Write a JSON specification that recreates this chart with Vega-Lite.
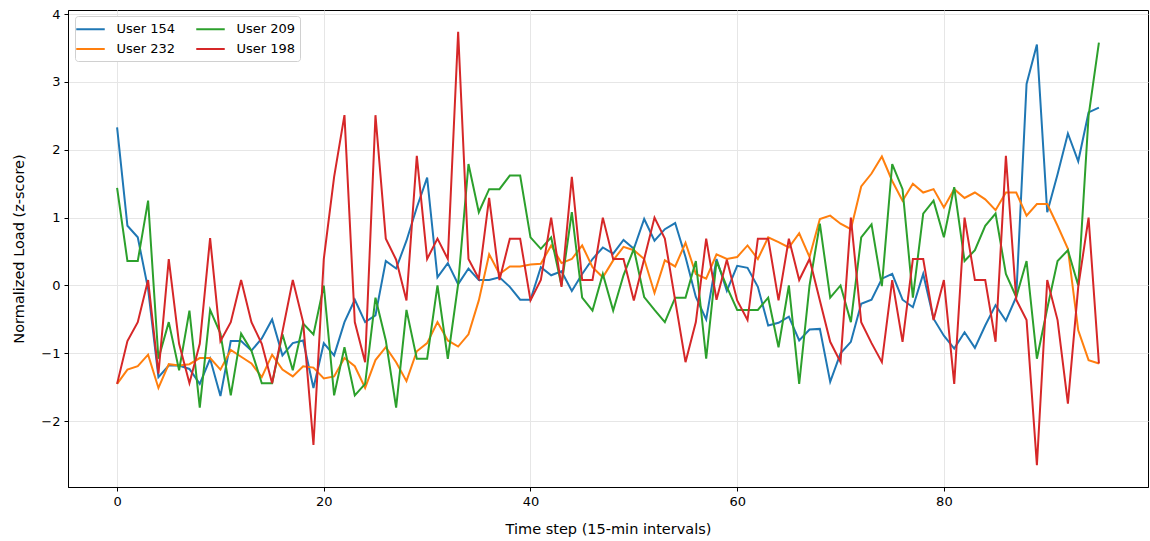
{
  "$schema": "https://vega.github.io/schema/vega-lite/v6.json",
  "width": 1080,
  "height": 477,
  "autosize": {"type": "none"},
  "padding": {"left": 68, "top": 10, "right": 2, "bottom": 54},
  "config": {
    "font": "DejaVu Sans",
    "view": {"stroke": "#000", "strokeWidth": 1},
    "axis": {
      "gridColor": "#e6e6e6", "gridWidth": 1, "domainColor": "#000", "tickColor": "#000",
      "labelColor": "#000", "titleColor": "#000", "labelFontSize": 13, "titleFontSize": 14.5,
      "titleFontWeight": "normal", "tickSize": 4, "labelPadding": 4
    }
  },
  "data": {"values": [
    {"t":0,"User 154":2.33,"User 232":-1.45,"User 209":1.44,"User 198":-1.45},
    {"t":1,"User 154":0.88,"User 232":-1.24,"User 209":0.36,"User 198":-0.82},
    {"t":2,"User 154":0.71,"User 232":-1.19,"User 209":0.36,"User 198":-0.54},
    {"t":3,"User 154":-0.05,"User 232":-1.02,"User 209":1.25,"User 198":0.08},
    {"t":4,"User 154":-1.35,"User 232":-1.51,"User 209":-1.08,"User 198":-1.3},
    {"t":5,"User 154":-1.18,"User 232":-1.16,"User 209":-0.54,"User 198":0.39},
    {"t":6,"User 154":-1.18,"User 232":-1.18,"User 209":-1.25,"User 198":-0.86},
    {"t":7,"User 154":-1.23,"User 232":-1.16,"User 209":-0.37,"User 198":-1.44},
    {"t":8,"User 154":-1.45,"User 232":-1.07,"User 209":-1.8,"User 198":-0.86},
    {"t":9,"User 154":-1.08,"User 232":-1.07,"User 209":-0.36,"User 198":0.7},
    {"t":10,"User 154":-1.63,"User 232":-1.24,"User 209":-0.71,"User 198":-0.82},
    {"t":11,"User 154":-0.82,"User 232":-0.95,"User 209":-1.62,"User 198":-0.54},
    {"t":12,"User 154":-0.82,"User 232":-1.05,"User 209":-0.71,"User 198":0.08},
    {"t":13,"User 154":-0.96,"User 232":-1.15,"User 209":-0.96,"User 198":-0.54},
    {"t":14,"User 154":-0.78,"User 232":-1.35,"User 209":-1.44,"User 198":-0.86},
    {"t":15,"User 154":-0.5,"User 232":-1.02,"User 209":-1.44,"User 198":-1.44},
    {"t":16,"User 154":-1.03,"User 232":-1.24,"User 209":-0.72,"User 198":-0.68},
    {"t":17,"User 154":-0.85,"User 232":-1.34,"User 209":-1.25,"User 198":0.08},
    {"t":18,"User 154":-0.81,"User 232":-1.19,"User 209":-0.56,"User 198":-0.54},
    {"t":19,"User 154":-1.51,"User 232":-1.21,"User 209":-0.72,"User 198":-2.35},
    {"t":20,"User 154":-0.85,"User 232":-1.37,"User 209":0.0,"User 198":0.39},
    {"t":21,"User 154":-1.03,"User 232":-1.34,"User 209":-1.62,"User 198":1.6},
    {"t":22,"User 154":-0.54,"User 232":-1.07,"User 209":-0.91,"User 198":2.51},
    {"t":23,"User 154":-0.21,"User 232":-1.19,"User 209":-1.62,"User 198":-0.54},
    {"t":24,"User 154":-0.54,"User 232":-1.51,"User 209":-1.45,"User 198":-1.13},
    {"t":25,"User 154":-0.44,"User 232":-1.1,"User 209":-0.18,"User 198":2.51},
    {"t":26,"User 154":0.36,"User 232":-0.91,"User 209":-0.81,"User 198":0.69},
    {"t":27,"User 154":0.25,"User 232":-1.13,"User 209":-1.8,"User 198":0.38},
    {"t":28,"User 154":0.66,"User 232":-1.41,"User 209":-0.36,"User 198":-0.22},
    {"t":29,"User 154":1.15,"User 232":-0.97,"User 209":-1.08,"User 198":1.91},
    {"t":30,"User 154":1.59,"User 232":-0.85,"User 209":-1.08,"User 198":0.39},
    {"t":31,"User 154":0.12,"User 232":-0.54,"User 209":0.0,"User 198":0.69},
    {"t":32,"User 154":0.33,"User 232":-0.81,"User 209":-1.08,"User 198":0.39},
    {"t":33,"User 154":0.02,"User 232":-0.9,"User 209":0.02,"User 198":3.74},
    {"t":34,"User 154":0.25,"User 232":-0.72,"User 209":1.79,"User 198":0.39},
    {"t":35,"User 154":0.08,"User 232":-0.22,"User 209":1.08,"User 198":0.1},
    {"t":36,"User 154":0.08,"User 232":0.46,"User 209":1.42,"User 198":1.29},
    {"t":37,"User 154":0.12,"User 232":0.17,"User 209":1.42,"User 198":0.08},
    {"t":38,"User 154":-0.02,"User 232":0.28,"User 209":1.62,"User 198":0.69},
    {"t":39,"User 154":-0.21,"User 232":0.28,"User 209":1.62,"User 198":0.69},
    {"t":40,"User 154":-0.21,"User 232":0.31,"User 209":0.71,"User 198":-0.22},
    {"t":41,"User 154":0.27,"User 232":0.32,"User 209":0.54,"User 198":0.08},
    {"t":42,"User 154":0.15,"User 232":0.59,"User 209":0.71,"User 198":1.0},
    {"t":43,"User 154":0.21,"User 232":0.33,"User 209":0.0,"User 198":-0.02},
    {"t":44,"User 154":-0.08,"User 232":0.39,"User 209":1.08,"User 198":1.6},
    {"t":45,"User 154":0.17,"User 232":0.59,"User 209":-0.18,"User 198":0.08},
    {"t":46,"User 154":0.39,"User 232":0.27,"User 209":-0.37,"User 198":0.08},
    {"t":47,"User 154":0.56,"User 232":0.12,"User 209":0.17,"User 198":1.0},
    {"t":48,"User 154":0.47,"User 232":0.37,"User 209":-0.37,"User 198":0.39},
    {"t":49,"User 154":0.67,"User 232":0.57,"User 209":0.15,"User 198":0.39},
    {"t":50,"User 154":0.54,"User 232":0.52,"User 209":0.54,"User 198":-0.22},
    {"t":51,"User 154":0.98,"User 232":0.39,"User 209":-0.17,"User 198":0.39},
    {"t":52,"User 154":0.66,"User 232":-0.11,"User 209":-0.36,"User 198":1.0},
    {"t":53,"User 154":0.83,"User 232":0.37,"User 209":-0.54,"User 198":0.69},
    {"t":54,"User 154":0.92,"User 232":0.28,"User 209":-0.18,"User 198":-0.22},
    {"t":55,"User 154":0.42,"User 232":0.63,"User 209":-0.18,"User 198":-1.13},
    {"t":56,"User 154":-0.17,"User 232":0.17,"User 209":0.36,"User 198":-0.54},
    {"t":57,"User 154":-0.5,"User 232":0.1,"User 209":-1.08,"User 198":0.69},
    {"t":58,"User 154":0.39,"User 232":0.46,"User 209":0.36,"User 198":-0.21},
    {"t":59,"User 154":-0.08,"User 232":0.39,"User 209":-0.02,"User 198":0.38},
    {"t":60,"User 154":0.29,"User 232":0.42,"User 209":-0.36,"User 198":-0.22},
    {"t":61,"User 154":0.26,"User 232":0.59,"User 209":-0.36,"User 198":-0.51},
    {"t":62,"User 154":-0.02,"User 232":0.39,"User 209":-0.36,"User 198":0.69},
    {"t":63,"User 154":-0.59,"User 232":0.71,"User 209":-0.18,"User 198":0.69},
    {"t":64,"User 154":-0.55,"User 232":0.64,"User 209":-0.91,"User 198":-0.22},
    {"t":65,"User 154":-0.46,"User 232":0.56,"User 209":0.0,"User 198":0.69},
    {"t":66,"User 154":-0.81,"User 232":0.77,"User 209":-1.45,"User 198":0.08},
    {"t":67,"User 154":-0.65,"User 232":0.42,"User 209":0.0,"User 198":0.39},
    {"t":68,"User 154":-0.64,"User 232":0.98,"User 209":0.91,"User 198":-0.22},
    {"t":69,"User 154":-1.42,"User 232":1.03,"User 209":-0.18,"User 198":-0.83},
    {"t":70,"User 154":-1.0,"User 232":0.91,"User 209":0.0,"User 198":-1.13},
    {"t":71,"User 154":-0.83,"User 232":0.83,"User 209":-0.54,"User 198":1.0},
    {"t":72,"User 154":-0.27,"User 232":1.46,"User 209":0.71,"User 198":-0.54},
    {"t":73,"User 154":-0.21,"User 232":1.65,"User 209":0.9,"User 198":-0.85},
    {"t":74,"User 154":0.1,"User 232":1.9,"User 209":-0.01,"User 198":-1.13},
    {"t":75,"User 154":0.17,"User 232":1.54,"User 209":1.79,"User 198":0.08},
    {"t":76,"User 154":-0.21,"User 232":1.25,"User 209":1.42,"User 198":-0.83},
    {"t":77,"User 154":-0.32,"User 232":1.5,"User 209":-0.18,"User 198":0.39},
    {"t":78,"User 154":0.17,"User 232":1.37,"User 209":1.06,"User 198":0.39},
    {"t":79,"User 154":-0.49,"User 232":1.42,"User 209":1.25,"User 198":-0.51},
    {"t":80,"User 154":-0.74,"User 232":1.15,"User 209":0.71,"User 198":0.08},
    {"t":81,"User 154":-0.93,"User 232":1.42,"User 209":1.45,"User 198":-1.45},
    {"t":82,"User 154":-0.69,"User 232":1.29,"User 209":0.36,"User 198":1.0},
    {"t":83,"User 154":-0.92,"User 232":1.37,"User 209":0.52,"User 198":0.08},
    {"t":84,"User 154":-0.59,"User 232":1.27,"User 209":0.88,"User 198":0.08},
    {"t":85,"User 154":-0.29,"User 232":1.11,"User 209":1.06,"User 198":-0.83},
    {"t":86,"User 154":-0.52,"User 232":1.37,"User 209":0.17,"User 198":1.91},
    {"t":87,"User 154":-0.17,"User 232":1.37,"User 209":-0.17,"User 198":-0.21},
    {"t":88,"User 154":2.97,"User 232":1.03,"User 209":0.36,"User 198":-0.51},
    {"t":89,"User 154":3.55,"User 232":1.2,"User 209":-1.08,"User 198":-2.65},
    {"t":90,"User 154":1.08,"User 232":1.2,"User 209":-0.34,"User 198":0.08},
    {"t":91,"User 154":1.64,"User 232":0.88,"User 209":0.36,"User 198":-0.51},
    {"t":92,"User 154":2.24,"User 232":0.54,"User 209":0.52,"User 198":-1.74},
    {"t":93,"User 154":1.83,"User 232":-0.66,"User 209":0.0,"User 198":-0.02},
    {"t":94,"User 154":2.55,"User 232":-1.1,"User 209":2.5,"User 198":1.0},
    {"t":95,"User 154":2.62,"User 232":-1.15,"User 209":3.58,"User 198":-1.15}
  ]},
  "transform": [
    {"fold": ["User 154", "User 232", "User 209", "User 198"], "as": ["user", "z"]}
  ],
  "mark": {"type": "line", "strokeWidth": 2, "clip": true},
  "encoding": {
    "x": {
      "field": "t", "type": "quantitative",
      "scale": {"domain": [-4.75, 99.75], "nice": false, "zero": false},
      "axis": {"values": [0, 20, 40, 60, 80], "title": "Time step (15-min intervals)", "titlePadding": 14}
    },
    "y": {
      "field": "z", "type": "quantitative",
      "scale": {"domain": [-2.97, 4.06], "nice": false, "zero": false},
      "axis": {"values": [-2, -1, 0, 1, 2, 3, 4], "title": "Normalized Load (z-score)", "titlePadding": 14}
    },
    "color": {
      "field": "user", "type": "nominal",
      "scale": {
        "domain": ["User 154", "User 232", "User 209", "User 198"],
        "range": ["#1f77b4", "#ff7f0e", "#2ca02c", "#d62728"]
      },
      "legend": {
        "title": null, "orient": "none", "legendX": 7, "legendY": 6, "columns": 2,
        "symbolType": "M-1.9,0H1.9", "symbolSize": 225, "symbolStrokeWidth": 2, "symbolOffset": 2.5,
        "labelFontSize": 13, "labelColor": "#000", "labelOffset": 17.5,
        "columnPadding": 16, "rowPadding": 4, "padding": 4.5,
        "fillColor": "#fff", "strokeColor": "#d0d0d0", "cornerRadius": 3
      }
    }
  }
}
